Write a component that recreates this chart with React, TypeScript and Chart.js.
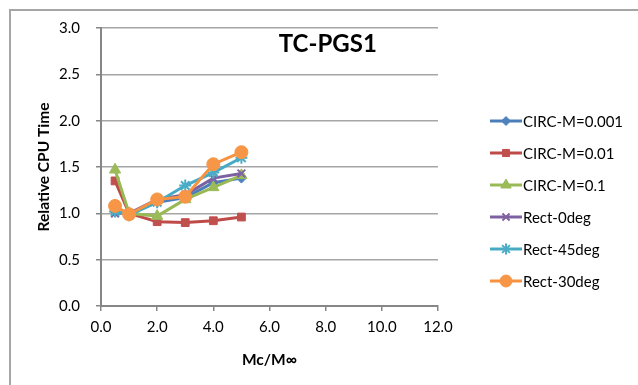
import React, { useEffect, useRef } from "react";
import { Chart, registerables } from "chart.js";
import { drawPoint } from "chart.js/helpers";

Chart.register(...registerables);

const chartTitle = "TC-PGS1";
const xAxisTitle = "Mc/M∞";
const yAxisTitle = "Relative CPU Time";
const xValues = [0.5, 1, 2, 3, 4, 5];
const seriesNames = ["CIRC-M=0.001", "CIRC-M=0.01", "CIRC-M=0.1", "Rect-0deg", "Rect-45deg", "Rect-30deg"];
const circM0001 = [1.02, 0.99, 1.12, 1.17, 1.33, 1.38];
const circM001 = [1.35, 1.0, 0.91, 0.9, 0.92, 0.96];
const circM01 = [1.47, 1.0, 0.97, 1.15, 1.28, 1.41];
const rect0deg = [1.0, 1.0, 1.15, 1.2, 1.38, 1.43];
const rect45deg = [1.02, 0.98, 1.12, 1.3, 1.44, 1.6];
const rect30deg = [1.08, 0.99, 1.15, 1.18, 1.53, 1.66];
const seriesValues = [circM0001, circM001, circM01, rect0deg, rect45deg, rect30deg];
const xMin = 0, xMax = 12, xStep = 2;
const yMin = 0, yMax = 3, yStep = 0.5;

const lineColors = ["#4A7EBB", "#BE4B48", "#98B954", "#7D60A0", "#46AAC5", "#F69240"];
const markerColors = ["#4F81BD", "#C0504D", "#9BBB59", "#8064A2", "#4BACC6", "#F79646"];
const markerStyles = ["rectRot", "rect", "triangle", "crossRot", "star", "circle"];
const markerRadii = [5, 5.5, 6.5, 5.5, 6, 6.5];

const FONT = "Lato, 'Open Sans', sans-serif";

export default function App() {
  const ref = useRef<HTMLCanvasElement | null>(null);
  useEffect(() => {
    const canvas = ref.current;
    if (!canvas) return;
    const datasets = seriesValues.map((vals, i) => ({
      label: seriesNames[i],
      data: vals.map((v, j) => ({ x: xValues[j], y: v })),
      borderColor: lineColors[i],
      backgroundColor: markerColors[i],
      pointBackgroundColor: markerColors[i],
      pointBorderColor: markerColors[i],
      pointStyle: markerStyles[i],
      pointRadius: markerRadii[i],
      pointBorderWidth: markerStyles[i] === "crossRot" || markerStyles[i] === "star" ? 2 : 1,
      borderWidth: 3,
      tension: 0,
      order: seriesValues.length - i,
    }));

    const overlay = {
      id: "overlay",
      afterDraw(chart: any) {
        const ctx = chart.ctx as CanvasRenderingContext2D;
        const area = chart.chartArea;
        ctx.save();
        // title
        ctx.fillStyle = "#000";
        ctx.font = `bold 24px ${FONT}`;
        ctx.textAlign = "center";
        ctx.textBaseline = "middle";
        ctx.fillText(chartTitle, area.left + (area.right - area.left) * 0.673, area.top + 16);
        // legend
        const lx = area.right + 52;
        const ly0 = 121;
        const dy = 32;
        ctx.font = `15px ${FONT}`;
        ctx.textAlign = "left";
        seriesNames.forEach((name, i) => {
          const y = ly0 + i * dy;
          ctx.strokeStyle = lineColors[i];
          ctx.lineWidth = 3;
          ctx.beginPath();
          ctx.moveTo(lx, y);
          ctx.lineTo(lx + 32, y);
          ctx.stroke();
          ctx.fillStyle = markerColors[i];
          ctx.strokeStyle = markerColors[i];
          ctx.lineWidth = markerStyles[i] === "crossRot" || markerStyles[i] === "star" ? 2 : 1;
          drawPoint(ctx, { pointStyle: markerStyles[i], radius: markerRadii[i] - 0.5, rotation: 0, borderWidth: ctx.lineWidth }, lx + 16, y);
          ctx.fillStyle = "#000";
          ctx.fillText(name, lx + 33, y + 1);
        });
        ctx.restore();
      },
    };

    const chart = new Chart(canvas, {
      type: "line",
      data: { datasets },
      options: {
        animation: false,
        responsive: false,
        devicePixelRatio: 1,
        layout: { padding: { left: 31, top: 28, right: 200, bottom: 16 } },
        plugins: { legend: { display: false }, tooltip: { enabled: false }, title: { display: false } },
        scales: {
          x: {
            type: "linear",
            min: xMin,
            max: xMax,
            border: { color: "#868686", width: 2 },
            grid: { drawOnChartArea: false, drawTicks: true, tickLength: 5, color: "#868686", lineWidth: 1.5 },
            ticks: { stepSize: xStep, color: "#000", font: { family: FONT, size: 15 }, padding: 7, maxRotation: 0,
              callback: (v: any) => Number(v).toFixed(1) },
            title: { display: true, text: xAxisTitle, color: "#000", font: { family: FONT, size: 15.5, weight: "bold" }, padding: { top: 4, bottom: 0 } },
            afterFit: (s: any) => { s.height = 63; },
          },
          y: {
            type: "linear",
            min: yMin,
            max: yMax,
            border: { color: "#868686", width: 2 },
            grid: { color: "#A6A6A6", lineWidth: 1.5, drawTicks: true, tickLength: 5, tickColor: "#868686" },
            ticks: { stepSize: yStep, color: "#000", font: { family: FONT, size: 15 }, padding: 16,
              callback: (v: any) => Number(v).toFixed(1) },
            title: { display: true, text: yAxisTitle, color: "#000", font: { family: FONT, size: 15.5, weight: "bold" }, padding: { top: 4, bottom: 0 } },
            afterFit: (s: any) => { s.width = 70; },
          },
        },
      },
      plugins: [overlay],
    } as any);
    return () => chart.destroy();
  }, []);

  return (
    <div style={{ position: "fixed", left: 0, top: 0, width: 638, height: 385, background: "#fff", overflow: "hidden" }}>
      <div style={{ position: "absolute", left: 9, top: 9, width: 700, height: 500, borderTop: "2px solid #A6A6A6", borderLeft: "2px solid #A6A6A6" }} />
      <canvas ref={ref} width={638} height={385} style={{ position: "absolute", left: 0, top: 0, width: 638, height: 385 }} />
    </div>
  );
}
